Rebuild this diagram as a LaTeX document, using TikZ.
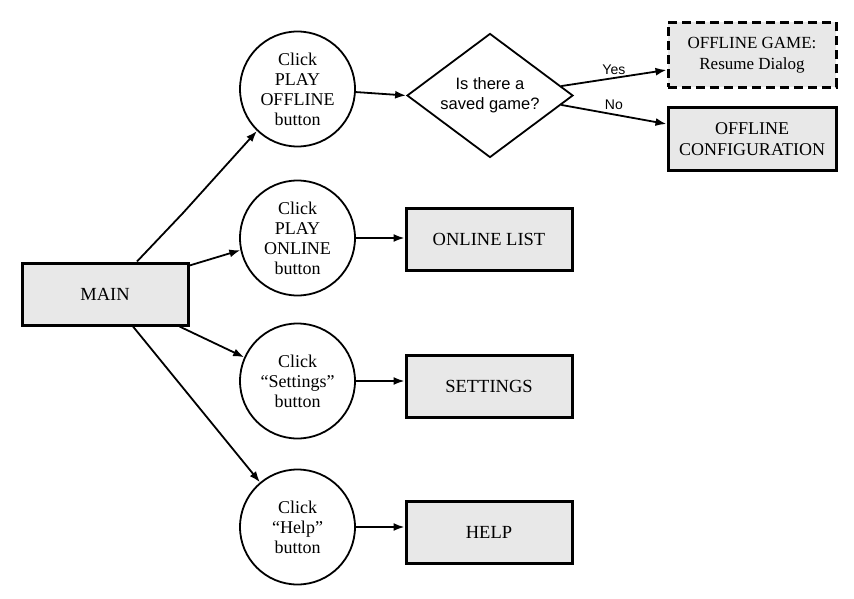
\documentclass[tikz,border=0pt]{standalone}
\usepackage{fontspec}
\setmainfont{Liberation Serif}
\newfontfamily\sfx{Liberation Sans}
\usetikzlibrary{shapes.geometric,arrows.meta,calc}
\definecolor{boxfill}{HTML}{E8E8E8}
\tikzset{
  box/.style={draw, line width=3pt, fill=boxfill, rectangle, minimum width=166pt, minimum height=62pt, inner sep=2pt, align=center, font=\fontsize{18.5}{21}\selectfont},
  clickc/.style={draw, line width=1.8pt, circle, minimum size=115pt, inner sep=0pt, align=center, font=\fontsize{18}{20}\selectfont},
  arr/.style={line width=1.8pt, -{Latex[length=11pt,width=8pt]}},
  lbl/.style={font=\sfx\fontsize{14}{15}\selectfont}
}
\begin{document}
\begin{tikzpicture}[x=1pt,y=-1pt]
\useasboundingbox (0,0) rectangle (854,599);
\node[box] (main) at (105,294) {MAIN};
\node[clickc] (c1) at (297.5,89) {Click\\PLAY\\OFFLINE\\button};
\node[clickc] (c2) at (297.5,238) {Click\\PLAY\\ONLINE\\button};
\node[clickc] (c3) at (297.5,381) {Click\\``Settings''\\button};
\node[clickc] (c4) at (297.5,527) {Click\\``Help''\\button};
\node[draw, line width=1.8pt, diamond, aspect=1.35, minimum width=166pt, minimum height=124pt, inner sep=0pt, align=center, font=\sfx\fontsize{16.5}{20}\selectfont] (d) at (490,95.5) {Is there a\\saved game?};
\node[box, dashed, dash pattern=on 9pt off 5pt, minimum width=168pt, minimum height=65pt, font=\fontsize{17}{21}\selectfont] (og) at (752,55) {OFFLINE GAME:\\Resume Dialog};
\node[box, minimum width=168pt, font=\fontsize{18}{21}\selectfont] (oc) at (752,139) {OFFLINE\\CONFIGURATION};
\node[box] (ol) at (489,239) {ONLINE LIST};
\node[box] (st) at (489,386) {SETTINGS};
\node[box] (hp) at (489,532) {HELP};
\coordinate (bend) at (183,213);
\draw[arr] ([xshift=32pt]main.north) -- (bend) -- (c1.226);
\draw[arr] ([yshift=-4pt]main.north east) -- (c2.192);
\draw[arr] ([xshift=-10pt]main.south east) -- (c3.156);
\draw[arr] ([xshift=28pt]main.south) -- (c4.130);
\draw[arr] (c1.-3) -- (d.west);
\draw[arr] ($(d.east)!0.15!(d.north)$) -- node[lbl, above, pos=0.5, yshift=-1pt] {Yes} ([yshift=-15pt]og.west);
\draw[arr] ($(d.east)!0.15!(d.south)$) -- node[lbl, above, pos=0.5, yshift=1pt] {No} ([yshift=15pt]oc.west);
\draw[arr] (c2.east) -- (c2.east -| ol.west);
\draw[arr] (c3.east) -- (c3.east -| st.west);
\draw[arr] (c4.east) -- (c4.east -| hp.west);
\end{tikzpicture}
\end{document}
